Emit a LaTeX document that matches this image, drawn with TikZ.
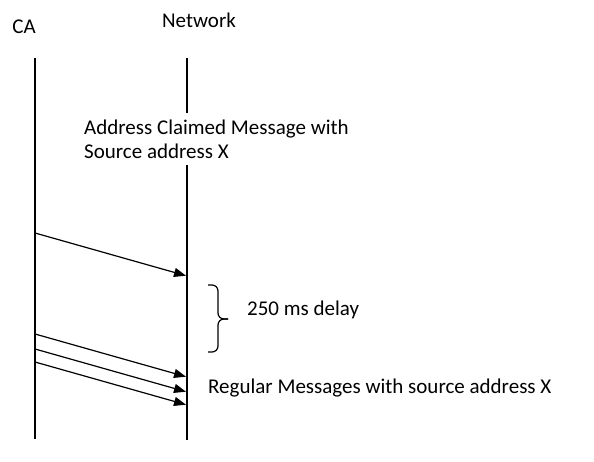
\documentclass[tikz,border=0pt]{standalone}
\usepackage{fontspec}
\setmainfont{Carlito}
\usetikzlibrary{arrows.meta,positioning}

\tikzset{lifeline/.style={line width=1.3pt},
         msg/.style={line width=1.2pt,-{Triangle[length=12pt,width=9pt]},shorten >=1pt},
         lbl/.style={inner sep=0pt,font=\fontsize{21}{24}\selectfont}}

\begin{document}
\begin{tikzpicture}[x=1pt,y=-1pt]
\useasboundingbox (0,0) rectangle (594,462);
\node[lbl] (ca) at (24,27) {CA};
\node[lbl] (net) at (199,20) {Network};
\coordinate (catop) at (35,58);
\coordinate (cabot) at (35,439);
\coordinate (nettop) at (187,58);
\coordinate (netbot) at (187,440);
\node[lbl,anchor=west,align=left,inner ysep=6pt] (claim) at (84,139) {Address Claimed Message with\\Source address X};
\draw[lifeline] (catop) -- (cabot);
\draw[lifeline] (nettop) -- (nettop |- claim.north);
\draw[lifeline] (nettop |- claim.south) -- (netbot);
% address claimed
\coordinate (s1) at (35,233);
\coordinate (e1) at (187,276);
\draw[msg] (s1) -- (e1);
% delay
\coordinate (btop) at (208,285);
\coordinate (btip) at (228,319);
\coordinate (bbot) at (208,352);
\draw[line width=1.2pt,rounded corners=6pt] (btop) -- ++(10,0) |- (btip);
\draw[line width=1.2pt,rounded corners=6pt] (btip) -| ([xshift=10pt]bbot) -- (bbot);
\node[lbl,anchor=west] (delay) at (247,310) {250 ms delay};
% regular messages
\coordinate (s2) at (35,334);
\coordinate (e2) at (187,377);
\coordinate (s3) at (35,349);
\coordinate (e3) at (187,392);
\coordinate (s4) at (35,362);
\coordinate (e4) at (187,405);
\draw[msg] (s2) -- (e2);
\draw[msg] (s3) -- (e3);
\draw[msg] (s4) -- (e4);
\node[lbl,anchor=west] (reg) at (208,388) {Regular Messages with source address X};
\end{tikzpicture}
\end{document}
